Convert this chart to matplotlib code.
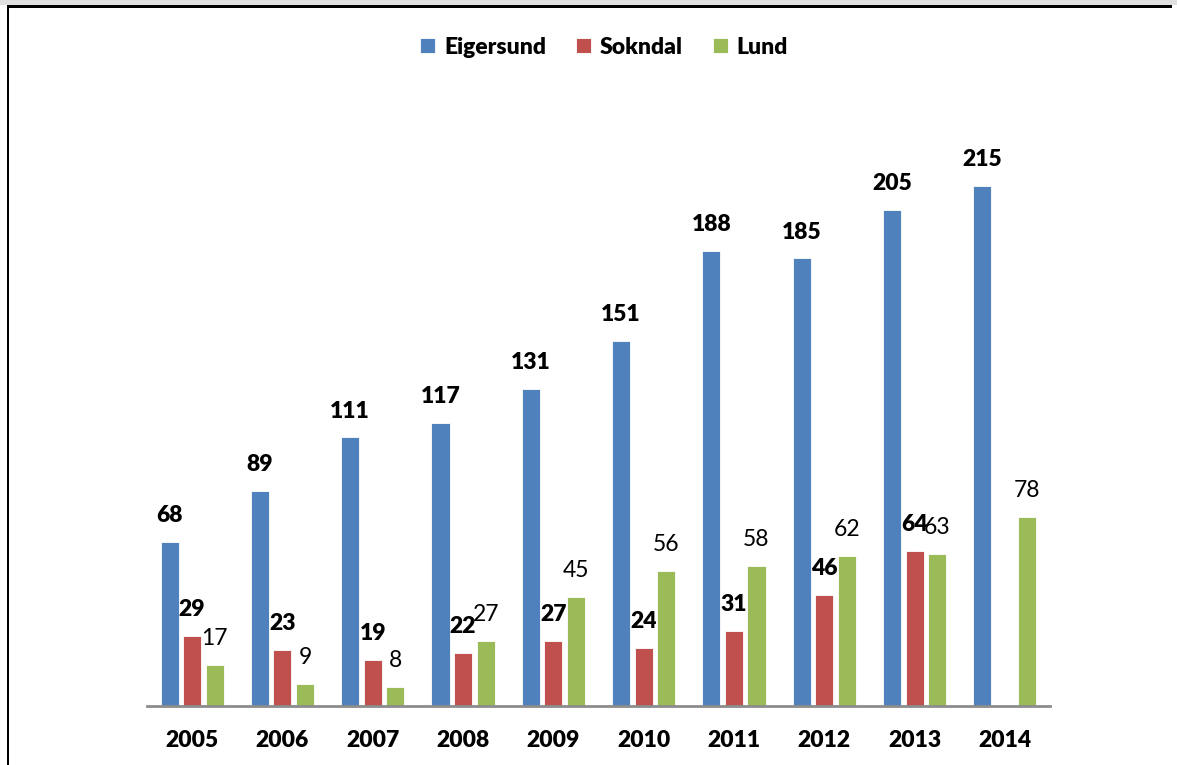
import numpy as np
import matplotlib
matplotlib.use("Agg")
import matplotlib.pyplot as plt
from matplotlib.patches import Rectangle

# ==================== 数据 ====================
years = ["2005", "2006", "2007", "2008", "2009", "2010", "2011", "2012", "2013", "2014"]
eigersund = [68, 89, 111, 117, 131, 151, 188, 185, 205, 215]
sokndal = [29, 23, 19, 22, 27, 24, 31, 46, 64, np.nan]
lund = [17, 9, 8, 27, 45, 56, 58, 62, 63, 78]

series_names = ["Eigersund", "Sokndal", "Lund"]
colors = ["#4F81BD", "#C0504D", "#9BBB59"]
label_bold = [True, True, False]

plt.rcParams["font.family"] = ["Lato", "DejaVu Sans"]

W, H = 1177, 765
fig = plt.figure(figsize=(W / 100, H / 100), dpi=100)

# 外框：顶部灰条 + 黑线，左侧黑线
fig.add_artist(Rectangle((0, 1 - 5 / H), 1, 5 / H, transform=fig.transFigure,
                         facecolor="#e0e0e0", edgecolor="none"))
fig.add_artist(Rectangle((7 / W, 1 - 8 / H), (1172 - 7) / W, 3 / H,
                         transform=fig.transFigure, facecolor="black", edgecolor="none"))
fig.add_artist(Rectangle((7 / W, 0), 2 / W, 1 - 5 / H, transform=fig.transFigure,
                         facecolor="black", edgecolor="none"))

# 坐标区（像素位置换算）
ax_left, ax_right, ax_base, ax_top = 147, 1050, 706, 120
ax = fig.add_axes([ax_left / W, (H - ax_base) / H,
                   (ax_right - ax_left) / W, (ax_base - ax_top) / H])

x = np.arange(len(years))
width = 0.2
offsets = [-0.25, 0.0, 0.25]
px_per_unit = 2.419
ymax = (ax_base - ax_top) / px_per_unit

handles = []
for vals, name, col, off, bold in zip([eigersund, sokndal, lund], series_names,
                                      colors, offsets, label_bold):
    bars = ax.bar(x + off, vals, width, color=col, edgecolor="white",
                  linewidth=0.6, label=name)
    handles.append(bars)
    for xi, v in zip(x + off, vals):
        if np.isnan(v):
            continue
        ax.annotate(str(int(v)), (xi, v), xytext=(0, 19), textcoords="offset points",
                    ha="center", va="center", fontsize=16.5,
                    fontweight="heavy" if bold else "normal", color="black")

ax.set_xlim(-0.5, len(years) - 0.5)
ax.set_ylim(0, ymax)
ax.set_xticks(x)
ax.set_xticklabels(years, fontsize=16.5, fontweight="heavy")
ax.tick_params(axis="x", length=0, pad=17)
ax.set_yticks([])
for s in ["top", "right", "left"]:
    ax.spines[s].set_visible(False)
ax.spines["bottom"].set_color("#8c8c8c")
ax.spines["bottom"].set_linewidth(2)

leg = fig.legend(handles, series_names, loc="center", ncol=3,
                 bbox_to_anchor=(604 / W, 1 - 47 / H), frameon=False,
                 prop={"size": 16.5, "weight": "heavy"},
                 handlelength=0.65, handleheight=0.65, handletextpad=0.4,
                 columnspacing=1.3)

fig.savefig("out.png", dpi=100)
